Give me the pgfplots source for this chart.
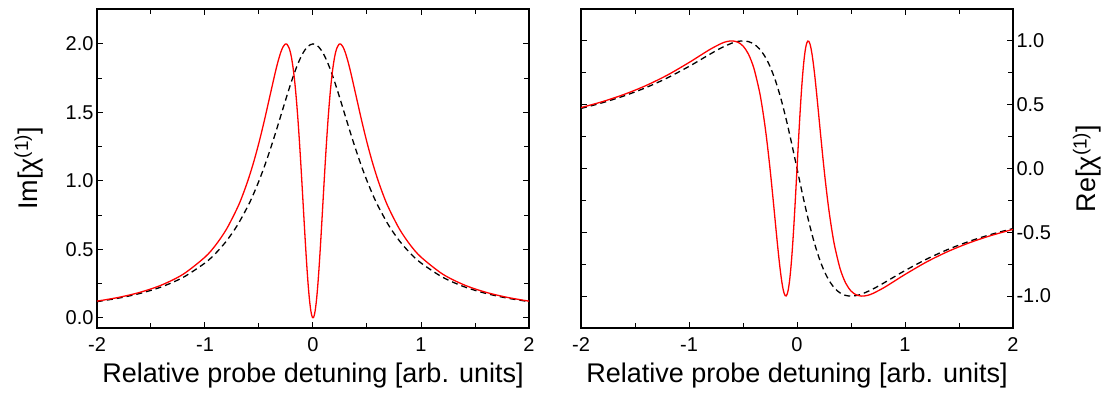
\documentclass[border=0pt]{standalone}
\usepackage{pgfplots}
\usepackage{pgfplotstable}
\pgfplotsset{compat=1.18}
\usepackage{fontspec}
\setmainfont{Liberation Sans}

% Im part, EIT (red)
\pgfplotstableread{
x y
-2.0 0.1212
-1.8 0.1485
-1.6 0.1861
-1.4 0.2396
-1.2 0.3189
-1.0 0.4429
-0.9 0.5320
-0.8 0.6484
-0.7 0.8026
-0.65 0.8981
-0.6 1.0084
-0.55 1.1353
-0.5 1.2800
-0.45 1.4418
-0.4 1.6160
-0.35 1.7896
-0.325 1.8684
-0.3 1.9350
-0.28 1.9745
-0.26 1.9969
-0.25 2.0000
-0.24 1.9967
-0.22 1.9677
-0.21 1.9404
-0.2 1.9036
-0.19 1.8566
-0.18 1.7988
-0.17 1.7297
-0.16 1.6491
-0.15 1.5571
-0.14 1.4539
-0.13 1.3403
-0.12 1.2175
-0.11 1.0871
-0.10 0.9512
-0.09 0.8125
-0.08 0.6741
-0.07 0.5393
-0.06 0.4120
-0.05 0.2959
-0.04 0.1947
-0.03 0.1120
-0.02 0.0506
-0.01 0.0128
-0.005 0.0032
0 0
0.005 0.0032
0.01 0.0128
0.02 0.0506
0.03 0.1120
0.04 0.1947
0.05 0.2959
0.06 0.4120
0.07 0.5393
0.08 0.6741
0.09 0.8125
0.10 0.9512
0.11 1.0871
0.12 1.2175
0.13 1.3403
0.14 1.4539
0.15 1.5571
0.16 1.6491
0.17 1.7297
0.18 1.7988
0.19 1.8566
0.2 1.9036
0.21 1.9404
0.22 1.9677
0.24 1.9967
0.25 2.0000
0.26 1.9969
0.28 1.9745
0.3 1.9350
0.325 1.8684
0.35 1.7896
0.4 1.6160
0.45 1.4418
0.5 1.2800
0.55 1.1353
0.6 1.0084
0.65 0.8981
0.7 0.8026
0.8 0.6484
0.9 0.5320
1.0 0.4429
1.2 0.3189
1.4 0.2396
1.6 0.1861
1.8 0.1485
2.0 0.1212
}\imred

% Re part, EIT (red)
\pgfplotstableread{
x y
-2.0 0.4772
-1.8 0.5244
-1.6 0.5810
-1.4 0.6494
-1.2 0.7322
-1.0 0.8305
-0.9 0.8837
-0.8 0.9362
-0.7 0.9803
-0.65 0.9948
-0.6 1.0000
-0.55 0.9908
-0.5 0.9600
-0.45 0.8971
-0.4 0.7878
-0.35 0.6136
-0.325 0.4958
-0.3 0.3548
-0.28 0.2243
-0.26 0.0783
-0.25 0
-0.24 -0.0815
-0.22 -0.2522
-0.21 -0.3400
-0.2 -0.4283
-0.19 -0.5159
-0.18 -0.6016
-0.17 -0.6837
-0.16 -0.7607
-0.15 -0.8304
-0.14 -0.8911
-0.13 -0.9403
-0.12 -0.9760
-0.11 -0.9962
-0.10 -0.9988
-0.09 -0.9823
-0.08 -0.9454
-0.07 -0.8876
-0.06 -0.8088
-0.05 -0.7101
-0.04 -0.5929
-0.03 -0.4598
-0.02 -0.3139
-0.01 -0.1592
-0.005 -0.0799
0 0
0.005 0.0799
0.01 0.1592
0.02 0.3139
0.03 0.4598
0.04 0.5929
0.05 0.7101
0.06 0.8088
0.07 0.8876
0.08 0.9454
0.09 0.9823
0.10 0.9988
0.11 0.9962
0.12 0.9760
0.13 0.9403
0.14 0.8911
0.15 0.8304
0.16 0.7607
0.17 0.6837
0.18 0.6016
0.19 0.5159
0.2 0.4283
0.21 0.3400
0.22 0.2522
0.24 0.0815
0.25 0
0.26 -0.0783
0.28 -0.2243
0.3 -0.3548
0.325 -0.4958
0.35 -0.6136
0.4 -0.7878
0.45 -0.8971
0.5 -0.9600
0.55 -0.9908
0.6 -1.0000
0.65 -0.9948
0.7 -0.9803
0.8 -0.9362
0.9 -0.8837
1.0 -0.8305
1.2 -0.7322
1.4 -0.6494
1.6 -0.5810
1.8 -0.5244
2.0 -0.4772
}\rered

% two-level (dashed)
\pgfplotstableread{
x im re
-2.0 0.1176 0.4706
-1.8 0.1433 0.5158
-1.6 0.1779 0.5694
-1.4 0.2262 0.6335
-1.2 0.2959 0.7101
-1.0 0.4000 0.8000
-0.9 0.4717 0.8491
-0.8 0.5618 0.8989
-0.7 0.6757 0.9459
-0.6 0.8197 0.9836
-0.55 0.9050 0.9955
-0.5 1.0000 1.0000
-0.45 1.1050 0.9945
-0.4 1.2195 0.9756
-0.35 1.3423 0.9396
-0.3 1.4706 0.8824
-0.25 1.6000 0.8000
-0.2 1.7241 0.6897
-0.15 1.8349 0.5505
-0.1 1.9231 0.3846
-0.05 1.9802 0.1980
0 2.0000 0
0.05 1.9802 -0.1980
0.1 1.9231 -0.3846
0.15 1.8349 -0.5505
0.2 1.7241 -0.6897
0.25 1.6000 -0.8000
0.3 1.4706 -0.8824
0.35 1.3423 -0.9396
0.4 1.2195 -0.9756
0.45 1.1050 -0.9945
0.5 1.0000 -1.0000
0.55 0.9050 -0.9955
0.6 0.8197 -0.9836
0.7 0.6757 -0.9459
0.8 0.5618 -0.8989
0.9 0.4717 -0.8491
1.0 0.4000 -0.8000
1.2 0.2959 -0.7101
1.4 0.2262 -0.6335
1.6 0.1779 -0.5694
1.8 0.1433 -0.5158
2.0 0.1176 -0.4706
}\twolevel

\pgfplotsset{
  myax/.style={
    scale only axis, width=432pt, height=319pt,
    xmin=-2, xmax=2,
    xtick={-2,-1,0,1,2}, xticklabels={-2,-1,0,1,2},
    minor x tick num=1, minor y tick num=1,
    tick align=inside,
    major tick length=6pt, minor tick length=5pt,
    axis line style={line width=1.1pt},
    every tick/.style={line width=1pt, black},
    tick label style={font=\fontsize{20}{24}\selectfont},
    xticklabel style={yshift=-6pt},
    xlabel={Relative probe detuning [arb. units]},
    xlabel style={font=\fontsize{27}{32}\selectfont, yshift=-4pt},
  },
  redline/.style={red, line width=1.3pt, smooth, no markers},
  dashline/.style={black, line width=1.3pt, dash pattern=on 6pt off 4pt, smooth, no markers},
}

\begin{document}
\begin{tikzpicture}
\useasboundingbox (-97pt,-66pt) rectangle (1010pt,328pt);
\begin{axis}[myax,
  ymin=-0.075, ymax=2.255,
  ytick={0,0.5,1,1.5,2}, yticklabels={0.0,0.5,1.0,1.5,2.0},
  ylabel={Im[χ\textsuperscript{(1)}]},
  ylabel style={font=\fontsize{27}{32}\selectfont, yshift=16pt},
]
\addplot[dashline] table[x=x,y=im] {\twolevel};
\addplot[redline] table[x=x,y=y] {\imred};
\end{axis}
\begin{axis}[myax, xshift=484pt,
  ymin=-1.25, ymax=1.25,
  ytick={-1,-0.5,0,0.5,1}, yticklabels={-1.0,-0.5,0.0,0.5,1.0},
  yticklabel pos=right, ylabel near ticks,
  ylabel={Re[χ\textsuperscript{(1)}]},
  ylabel style={font=\fontsize{27}{32}\selectfont, yshift=-15pt},
]
\addplot[dashline] table[x=x,y=re] {\twolevel};
\addplot[redline] table[x=x,y=y] {\rered};
\end{axis}
\end{tikzpicture}
\end{document}
